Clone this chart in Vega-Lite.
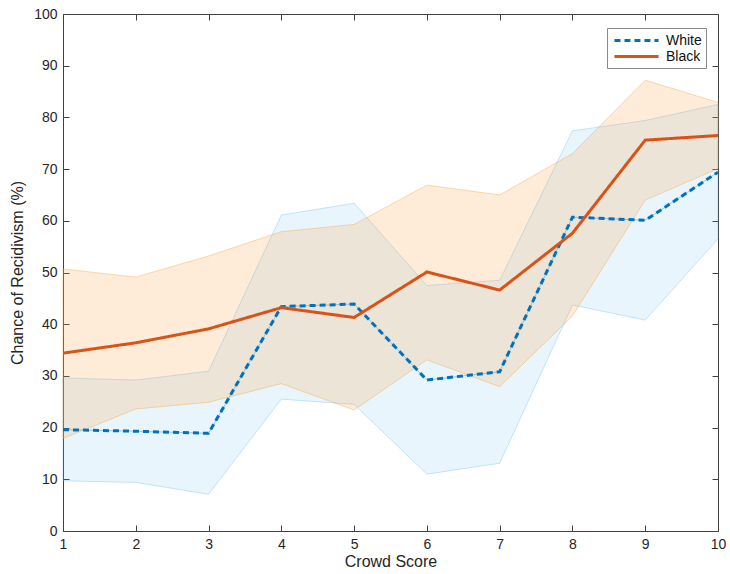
{
  "$schema": "https://vega.github.io/schema/vega-lite/v6.json",
  "width": 655,
  "height": 517,
  "autosize": {"type": "none"},
  "padding": {"left": 63, "top": 14, "right": 12, "bottom": 43},
  "background": "white",
  "data": {"values": [
    {"score": 1, "race": "White", "mean": 19.6, "lo": 9.7, "hi": 29.6},
    {"score": 2, "race": "White", "mean": 19.3, "lo": 9.4, "hi": 29.2},
    {"score": 3, "race": "White", "mean": 18.9, "lo": 7.1, "hi": 30.9},
    {"score": 4, "race": "White", "mean": 43.4, "lo": 25.5, "hi": 61.1},
    {"score": 5, "race": "White", "mean": 43.9, "lo": 24.5, "hi": 63.4},
    {"score": 6, "race": "White", "mean": 29.2, "lo": 11.0, "hi": 47.5},
    {"score": 7, "race": "White", "mean": 30.8, "lo": 13.1, "hi": 48.5},
    {"score": 8, "race": "White", "mean": 60.7, "lo": 43.7, "hi": 77.4},
    {"score": 9, "race": "White", "mean": 60.1, "lo": 40.8, "hi": 79.4},
    {"score": 10, "race": "White", "mean": 69.4, "lo": 56.5, "hi": 82.5},
    {"score": 1, "race": "Black", "mean": 34.4, "lo": 17.9, "hi": 50.7},
    {"score": 2, "race": "Black", "mean": 36.4, "lo": 23.6, "hi": 49.1},
    {"score": 3, "race": "Black", "mean": 39.1, "lo": 24.9, "hi": 53.2},
    {"score": 4, "race": "Black", "mean": 43.2, "lo": 28.5, "hi": 57.9},
    {"score": 5, "race": "Black", "mean": 41.3, "lo": 23.4, "hi": 59.3},
    {"score": 6, "race": "Black", "mean": 50.1, "lo": 33.1, "hi": 66.9},
    {"score": 7, "race": "Black", "mean": 46.6, "lo": 27.9, "hi": 65.0},
    {"score": 8, "race": "Black", "mean": 57.6, "lo": 41.6, "hi": 73.0},
    {"score": 9, "race": "Black", "mean": 75.6, "lo": 64.0, "hi": 87.2},
    {"score": 10, "race": "Black", "mean": 76.5, "lo": 70.1, "hi": 82.9}
  ]},
  "layer": [
    {
      "layer": [
        {
          "transform": [{"filter": "datum.race === 'White'"}],
          "mark": {"type": "area", "fill": "#4DB0F0", "fillOpacity": 0.12, "stroke": "#4DB0F0", "strokeOpacity": 0.3, "strokeWidth": 1},
          "encoding": {
            "x": {"field": "score", "type": "quantitative"},
            "y": {"field": "lo", "type": "quantitative"},
            "y2": {"field": "hi"}
          }
        },
        {
          "transform": [{"filter": "datum.race === 'Black'"}],
          "mark": {"type": "area", "fill": "#F9A23C", "fillOpacity": 0.2, "stroke": "#F9A23C", "strokeOpacity": 0.4, "strokeWidth": 1},
          "encoding": {
            "x": {"field": "score", "type": "quantitative"},
            "y": {"field": "lo", "type": "quantitative"},
            "y2": {"field": "hi"}
          }
        },
        {
          "transform": [{"filter": "datum.race === 'White'"}],
          "mark": {"type": "line", "stroke": "#5aa9d6", "strokeWidth": 1, "strokeOpacity": 0.6},
          "encoding": {
            "x": {"field": "score", "type": "quantitative"},
            "y": {"field": "mean", "type": "quantitative"}
          }
        },
        {
          "mark": {"type": "line", "strokeWidth": 3},
          "encoding": {
            "x": {"field": "score", "type": "quantitative"},
            "y": {"field": "mean", "type": "quantitative"},
            "color": {
              "field": "race", "type": "nominal",
              "scale": {"domain": ["White", "Black"], "range": ["#0072BD", "#D95319"]},
              "legend": {"title": null}
            },
            "strokeDash": {
              "field": "race", "type": "nominal",
              "scale": {"domain": ["White", "Black"], "range": [[6, 4], [1, 0]]},
              "legend": {"title": null}
            }
          }
        }
      ],
      "encoding": {
        "x": {
          "field": "score", "type": "quantitative",
          "scale": {"domain": [1, 10], "nice": false, "zero": false},
          "axis": {"title": "Crowd Score", "values": [1,2,3,4,5,6,7,8,9,10], "format": "d"}
        },
        "y": {
          "field": "mean", "type": "quantitative",
          "scale": {"domain": [0, 100], "nice": false},
          "axis": {"title": "Chance of Recidivism (%)", "values": [0,10,20,30,40,50,60,70,80,90,100]}
        }
      }
    },
    {
      "mark": {"type": "line", "strokeOpacity": 0},
      "encoding": {
        "x": {
          "field": "score", "type": "quantitative",
          "scale": {"domain": [1, 10], "nice": false, "zero": false},
          "axis": {"orient": "top", "labels": false, "title": null, "values": [1,2,3,4,5,6,7,8,9,10]}
        },
        "y": {
          "field": "mean", "type": "quantitative",
          "scale": {"domain": [0, 100], "nice": false},
          "axis": {"orient": "right", "labels": false, "title": null, "values": [0,10,20,30,40,50,60,70,80,90,100]}
        }
      }
    }
  ],
  "resolve": {"axis": {"x": "independent", "y": "independent"}},
  "config": {
    "font": "Liberation Sans",
    "view": {"stroke": null},
    "axis": {
      "grid": false,
      "domainColor": "#404040",
      "domainWidth": 1,
      "tickColor": "#404040",
      "tickSize": -6,
      "tickWidth": 1,
      "labelFont": "Liberation Sans",
      "labelFontSize": 14,
      "labelColor": "#262626",
      "labelPadding": 12,
      "titleFont": "Liberation Sans",
      "titleFontSize": 16,
      "titleFontWeight": "normal",
      "titleColor": "#262626",
      "labelFlush": false,
      "labelOverlap": false
    },
    "axisX": {"titlePadding": 2},
    "axisY": {"titlePadding": 8},
    "legend": {
      "orient": "none",
      "legendX": 544,
      "legendY": 14,
      "strokeColor": "#8a8a8a",
      "fillColor": "white",
      "padding": 4,
      "symbolType": "M-3.15,0H3.15",
      "symbolSize": 196,
      "symbolStrokeWidth": 3,
      "symbolOffset": 17,
      "labelFont": "Liberation Sans",
      "labelFontSize": 14,
      "labelColor": "#111111",
      "labelOffset": 21,
      "rowPadding": -2
    }
  }
}
